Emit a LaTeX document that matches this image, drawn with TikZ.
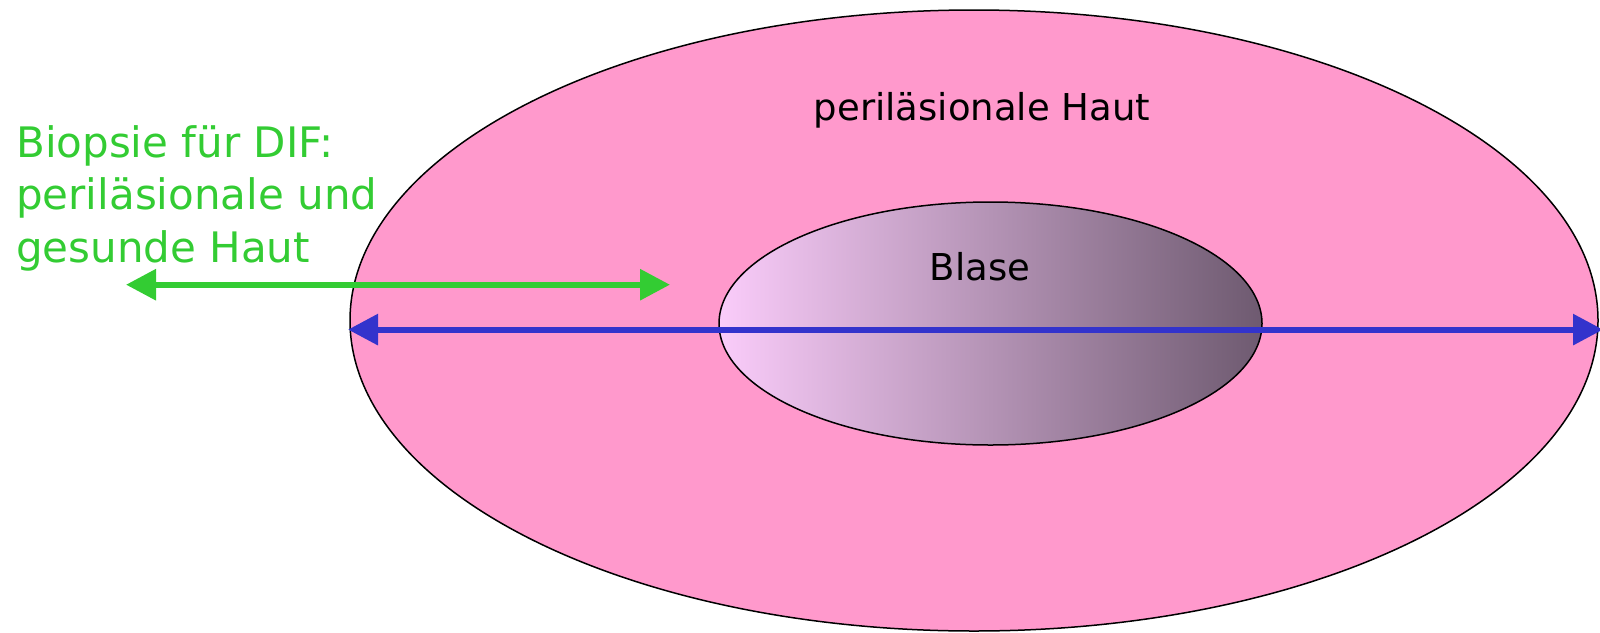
\documentclass[tikz,border=0pt]{standalone}
\usepackage{fontspec}
\setmainfont{DejaVu Sans}
\usetikzlibrary{shapes.geometric,arrows.meta}
\definecolor{skinpink}{HTML}{FF99CC}
\definecolor{bioGreen}{HTML}{33CC33}
\definecolor{diaBlue}{HTML}{3333CC}
\definecolor{blasL}{HTML}{FACCFA}
\definecolor{blasR}{HTML}{6E5A70}
\tikzset{
  skin/.style={ellipse, draw=black, line width=1.5pt, fill=skinpink, inner sep=0pt},
  blister/.style={ellipse, draw=black, line width=1.5pt, inner sep=0pt, left color=blasL, right color=blasR},
  lbl/.style={font=\fontsize{37}{44}\selectfont, inner sep=0pt},
  arr/.style={line width=6pt, {Triangle[length=30pt,width=30pt]}-{Triangle[length=30pt,width=30pt]}},
}
\begin{document}
\begin{tikzpicture}[x=1pt,y=-1pt]
\useasboundingbox (0,0) rectangle (1600,632);
\node[skin, minimum width=1248pt, minimum height=621pt] (outer) at (974,320.5) {};
\node[blister, minimum width=543pt, minimum height=243pt] (inner) at (990.5,323.5) {};
\node[lbl] (haut) at (982,110) {perilä{}sionale Haut};
\node[lbl] (blase) at (980,267) {Blase};
\node[font=\fontsize{42}{52.5}\selectfont, text=bioGreen, align=left, anchor=north west, inner sep=0pt] (bio) at (16,125) {Biopsie für DIF:\\perilä{}sionale und\\gesunde Haut};
\coordinate (gL) at (126,284.7);
\coordinate (gR) at (670,284.7);
\coordinate (bL) at (348,329.6);
\coordinate (bR) at (1603,329.6);
\draw[arr, bioGreen] (gL) -- (gR);
\draw[arr, diaBlue] (bL) -- (bR);
\end{tikzpicture}
\end{document}
